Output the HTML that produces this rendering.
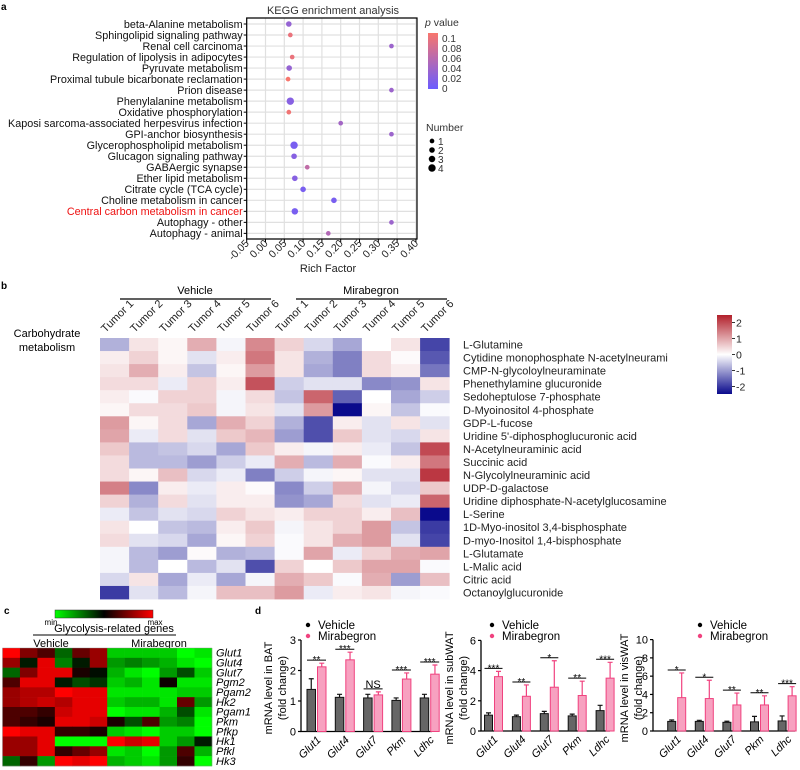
<!DOCTYPE html>
<html><head><meta charset="utf-8"><style>
body{margin:0;background:#fff;}
svg{display:block;font-family:"Liberation Sans",Arial,sans-serif;}
</style></head><body>
<svg id="fig" width="800" height="770" viewBox="0 0 800 770" xmlns="http://www.w3.org/2000/svg">
<defs>
<linearGradient id="pgrad" x1="0" y1="1" x2="0" y2="0"><stop offset="0" stop-color="#6b5cff"/><stop offset="1" stop-color="#f8766d"/></linearGradient>
<linearGradient id="bgrad" x1="0" y1="1" x2="0" y2="0"><stop offset="0" stop-color="#0a0a8c"/><stop offset="0.5" stop-color="#ffffff"/><stop offset="1" stop-color="#b2202b"/></linearGradient>
<linearGradient id="cgrad" x1="0" y1="0" x2="1" y2="0"><stop offset="0" stop-color="#00ff00"/><stop offset="0.5" stop-color="#000000"/><stop offset="1" stop-color="#ff0000"/></linearGradient>
</defs>
<text x="1" y="10" font-size="10" font-weight="bold">a</text>
<text x="1" y="289" font-size="10" font-weight="bold">b</text>
<text x="4" y="614" font-size="10" font-weight="bold">c</text>
<text x="255" y="614" font-size="10" font-weight="bold">d</text>
<text x="333" y="14" font-size="11" text-anchor="middle" fill="#333">KEGG enrichment analysis</text>
<text x="328" y="272" font-size="11" text-anchor="middle" fill="#222">Rich Factor</text>
<text x="425" y="26" font-size="10.5" fill="#333"><tspan font-style="italic">p</tspan> value</text>
<rect x="428" y="33" width="10" height="56" fill="url(#pgrad)"/>
<text x="426" y="131" font-size="10.5" fill="#333">Number</text>
<text x="47" y="337" font-size="11" text-anchor="middle">Carbohydrate</text>
<text x="47" y="351" font-size="11" text-anchor="middle">metabolism</text>
<rect x="717" y="315" width="15" height="79" fill="url(#bgrad)"/>
<rect x="55" y="610" width="98" height="8" fill="url(#cgrad)" stroke="#333" stroke-width="0.5"/>
<text x="51" y="625" font-size="8" text-anchor="middle">min</text>
<text x="155" y="625" font-size="8" text-anchor="middle">max</text>
<text x="114" y="632" font-size="11" text-anchor="middle">Glycolysis-related genes</text>
<line x1="33" y1="635" x2="176" y2="635" stroke="#000" stroke-width="1"/>
<text x="51" y="647" font-size="11" text-anchor="middle">Vehicle</text>
<text x="159" y="647" font-size="11" text-anchor="middle">Mirabegron</text>
<g id="root"></g>
</svg>
<script>
// ---------- Panel a data ----------
const keggTerms = ["beta-Alanine metabolism","Sphingolipid signaling pathway","Renal cell carcinoma","Regulation of lipolysis in adipocytes","Pyruvate metabolism","Proximal tubule bicarbonate reclamation","Prion disease","Phenylalanine metabolism","Oxidative phosphorylation","Kaposi sarcoma-associated herpesvirus infection","GPI-anchor biosynthesis","Glycerophospholipid metabolism","Glucagon signaling pathway","GABAergic synapse","Ether lipid metabolism","Citrate cycle (TCA cycle)","Choline metabolism in cancer","Central carbon metabolism in cancer","Autophagy - other","Autophagy - animal"];
const richFactor = [0.062,0.066,0.335,0.071,0.063,0.06,0.335,0.066,0.062,0.2,0.335,0.076,0.076,0.111,0.078,0.1,0.182,0.078,0.335,0.167];
const pValues = [0.03,0.09,0.035,0.09,0.03,0.1,0.035,0.02,0.095,0.04,0.035,0.01,0.02,0.06,0.02,0.01,0.01,0.01,0.035,0.05];
const geneCounts = [2,1,1,1,2,1,1,4,1,1,1,4,2,1,2,2,2,3,1,1];
const richTicks = [-0.05,0,0.05,0.1,0.15,0.2,0.25,0.3,0.35,0.4];
const richTickLabels = ["-0.05","0.00","0.05","0.10","0.15","0.20","0.25","0.30","0.35","0.40"];
const pTicks = [0.1,0.08,0.06,0.04,0.02,0];
const pTickLabels = ["0.1","0.08","0.06","0.04","0.02","0"];
const countLevels = [1,2,3,4];

// ---------- Panel b data ----------
const tumorLabels = ["Tumor 1","Tumor 2","Tumor 3","Tumor 4","Tumor 5","Tumor 6","Tumor 1","Tumor 2","Tumor 3","Tumor 4","Tumor 5","Tumor 6"];
const metabolites = ["L-Glutamine","Cytidine monophosphate N-acetylneurami","CMP-N-glycoloylneuraminate","Phenethylamine glucuronide","Sedoheptulose 7-phosphate","D-Myoinositol 4-phosphate","GDP-L-fucose","Uridine 5'-diphosphoglucuronic acid","N-Acetylneuraminic acid","Succinic acid","N-Glycolylneuraminic acid","UDP-D-galactose","Uridine diphosphate-N-acetylglucosamine","L-Serine","1D-Myo-inositol 3,4-bisphosphate","D-myo-Inositol 1,4-bisphosphate","L-Glutamate","L-Malic acid","Citric acid","Octanoylglucuronide"];
const zScores = [
[-0.8,0.3,0.1,0.9,-0.1,1.3,0.5,-0.4,-0.9,0,0.3,-1.9],
[0.2,0.5,0.1,-0.3,0.2,1.5,0.3,-0.8,-1.3,0.4,0.05,-1.7],
[0.3,0.9,0.2,-0.6,0.1,1.1,0.3,-0.9,-1.3,0.4,0.2,-1.4],
[0.4,0.4,-0.2,0.5,0.2,1.9,-0.5,-0.3,-0.3,-1.2,-1.1,0.3],
[0.2,-0.05,0.5,0.5,-0.1,0.4,-0.6,1.7,-1.6,0,-0.9,-0.5],
[0.1,0.4,0.4,0.6,-0.1,0.3,-0.3,1.1,-2.5,0.1,-0.6,-0.05],
[1.1,0.1,0.4,-0.9,0.9,0.5,-0.8,-1.8,0.2,-0.3,0.3,-0.3],
[1.0,-0.2,0.4,-0.3,0.6,0.8,-1.0,-1.8,0.6,-0.3,-0.4,0.3],
[0.6,-0.7,-0.6,-0.4,-0.9,0.6,0.2,-0.1,0.2,-0.2,-0.6,2.0],
[0.4,-0.7,-0.7,-1.0,-0.5,-0.2,0.9,-0.7,0.9,-0.05,0.2,1.5],
[0.4,0.1,0.7,-0.4,-0.2,-1.3,-0.5,-0.1,0.1,-0.3,-0.3,2.2],
[1.4,-1.2,0.2,-0.2,0.2,0.05,-1.2,-0.5,0.9,-0.1,-0.4,0.6],
[0.5,-0.8,0.4,-0.3,0.2,0.2,-1.1,-0.9,0.4,-0.3,-0.2,1.7],
[-0.2,-0.6,-0.3,-0.4,0.5,0.3,0.2,0.5,0.5,0.2,0.7,-2.6],
[0.3,0,-0.6,-0.7,0.2,0.6,-0.1,0.3,0.5,1.1,-0.6,-2.0],
[0.4,-0.3,-0.4,-0.9,0.1,0.5,-0.05,0.3,0.9,1.1,-0.3,-1.9],
[-0.1,-0.7,-1.0,0.05,-0.8,-0.7,-0.05,1.0,-0.2,0.5,0.9,1.0],
[-0.1,-0.7,0,-0.7,-0.3,-1.8,0.5,0,0.6,1.0,1.0,-0.05],
[-0.4,0.3,-0.9,-0.2,-0.9,-0.1,0.9,0.6,-0.05,0.9,-1.0,0.7],
[-2.0,-0.3,-0.7,-0.1,0.7,0.7,1.1,-0.2,0.2,0.3,-0.1,-0.05]];
const zTicks = [2,1,0,-1,-2];
const zTickLabels = ["2","1","0","-1","-2"];

// ---------- Panel c data ----------
const glyGenes = ["Glut1","Glut4","Glut7","Pgm2","Pgam2","Hk2","Pgam1","Pkm","Pfkp","Hk1","Pfkl","Hk3"];
const glyValues = [
[1,0.5,0.3,-0.4,0.4,0.6,-0.8,-0.8,-0.8,-0.8,-1,-0.9],
[0.6,-0.1,0.9,-0.5,-0.1,0.6,-0.6,-0.5,-0.6,-0.7,-0.9,-1],
[-0.4,0.5,0.9,0.9,0.1,-0.05,-0.7,-0.9,-1,-0.6,-0.3,-0.8],
[0.3,0.9,0.9,-0.1,-0.3,-0.2,-0.8,-0.7,-0.9,0.05,-0.9,-0.9],
[0.6,0.7,0.7,1,0.9,0.9,-0.9,-0.9,-0.9,-0.9,-0.8,-0.8],
[0.6,0.7,0.8,0.7,0.9,0.9,-0.8,-0.7,-0.7,-0.9,0.4,-0.6],
[0.3,0.3,0.2,0.8,0.9,0.9,-1,-0.9,-0.9,-0.7,-0.3,-0.9],
[0.3,0.2,0.1,0.9,0.9,0.8,0.1,-0.3,0.3,-0.6,-0.5,-1],
[1,0.9,0.9,0.2,0.2,0.1,-0.8,-0.9,-1,-0.8,-0.8,-1],
[0.6,0.6,0.9,-1,-1,-1,1,0.8,0.9,-0.8,-0.6,-0.1],
[0.6,0.6,0.9,0.2,0.4,0.6,-0.9,-0.8,-1,-0.6,0.3,-0.7],
[-0.4,0.2,-0.6,1,0.9,1,-0.7,-0.8,-0.9,-0.6,0.2,-1]];

// ---------- Panel d data ----------
const qpcrGenes = ["Glut1","Glut4","Glut7","Pkm","Ldhc"];
const batVehicle = [1.38,1.12,1.1,1.02,1.1];
const batVehicleSd = [0.35,0.1,0.12,0.08,0.12];
const batMira = [2.12,2.35,1.2,1.72,1.88];
const batMiraSd = [0.12,0.25,0.1,0.2,0.3];
const batSig = ["**","***","NS","***","***"];
const batTicks = [0,1,2,3];
const subVehicle = [1.05,0.95,1.15,1.0,1.35];
const subVehicleSd = [0.15,0.1,0.15,0.12,0.35];
const subMira = [3.6,2.3,2.9,2.35,3.5];
const subMiraSd = [0.35,0.75,1.75,0.95,1.05];
const subSig = ["***","**","*","**","***"];
const subTicks = [0,2,4,6];
const visVehicle = [1.05,1.05,0.95,1.0,1.1];
const visVehicleSd = [0.15,0.12,0.12,0.6,0.55];
const visMira = [3.65,3.55,2.85,2.85,3.85];
const visMiraSd = [2.7,2.0,1.3,1.0,1.0];
const visSig = ["*","*","**","**","***"];
const visTicks = [0,2,4,6,8,10];

const NS="http://www.w3.org/2000/svg";
const root=document.getElementById('root');
function mk(tag,attrs,txt){const e=document.createElementNS(NS,tag);for(const k in attrs)e.setAttribute(k,attrs[k]);if(txt!==undefined)e.textContent=txt;root.appendChild(e);return e;}
function lerp(a,b,t){return a.map((v,i)=>Math.round(v+(b[i]-v)*t));}
function rgb(c){return "rgb("+c.join(",")+")";}

// ===== Panel a =====
const ax0=246.7, axPer=376, axTop=18, axBot=239, axRight=417;
const xA=v=>ax0+(v+0.05)*axPer;
const yA=i=>24+i*11.02;
const pCol=p=>rgb(lerp([107,92,255],[248,118,109],Math.min(1,p/0.1)));
const rA=n=>1.9+n*0.45;
richTicks.forEach((t,i)=>{
  const g=mk('line',{x1:xA(t),x2:xA(t),y1:axTop,y2:axBot,stroke:'#e0e0e0','stroke-width':1.2});
  
  
  const tk=mk('line',{x1:xA(t),x2:xA(t),y1:axBot,y2:axBot+3,stroke:'#000'});
  
  
  const lb=mk('text',{x:xA(t)+3,y:axBot+5,'font-size':10.5,'text-anchor':'end',transform:`rotate(-45 ${xA(t)+3} ${axBot+5})`,fill:'#222'},richTickLabels[i]);
  
  
});
keggTerms.forEach((term,i)=>{
  const g=mk('line',{x1:ax0,x2:axRight,y1:yA(i),y2:yA(i),stroke:'#e0e0e0','stroke-width':1.2});
  
  
  const tk=mk('line',{x1:ax0-3,x2:ax0,y1:yA(i),y2:yA(i),stroke:'#000'});
  
  
  const lb=mk('text',{x:ax0-4,y:yA(i)+3.8,'font-size':10.8,'text-anchor':'end',fill:term.indexOf('Central')===0?'#ee1111':'#111'},term);
  
  
});
const axL=mk('path',{d:`M${ax0} ${axTop} V${axBot} H${axRight} V${axTop} Z`,fill:'none',stroke:'#000','stroke-width':1.2});


richFactor.forEach((v,i)=>{
  const c=mk('circle',{cx:xA(v),cy:yA(i),r:rA(geneCounts[i]),fill:pCol(pValues[i])});
  
  
});
pTicks.forEach((p,i)=>{
  const y=88-(p/0.1)*50;
  const tk=mk('line',{x1:438,x2:441,y1:y,y2:y,stroke:'#fff'});
  
  
  const lb=mk('text',{x:442,y:y+4,'font-size':10,fill:'#333'},pTickLabels[i]);
  
  
});
countLevels.forEach((n,i)=>{
  const y=141+i*9;
  const c=mk('circle',{cx:432,cy:y,r:rA(n),fill:'#000'});
  
  
  const lb=mk('text',{x:438,y:y+4,'font-size':10,fill:'#333'},String(n));
  
  
});

// ===== Panel b =====
const bx0=100, bcw=29.1, by0=338, brh=13.05;
const zCol=v=>{const t=Math.min(1,Math.abs(v)/2.5);return v>=0?rgb(lerp([255,255,255],[178,28,40],t)):rgb(lerp([255,255,255],[10,10,140],t));};
zScores.forEach((row,r)=>{
  row.forEach((v,c)=>{
    const cell=mk('rect',{x:bx0+c*bcw,y:by0+r*brh,width:bcw+0.4,height:brh+0.4,fill:zCol(v)});
    
    
  });
  const lb=mk('text',{x:463,y:by0+r*brh+brh/2+4,'font-size':11,fill:'#222'},metabolites[r]);
  
  
});
tumorLabels.forEach((t,c)=>{
  const x=bx0+c*bcw+bcw/2-9, y=333;
  const lb=mk('text',{x:x,y:y,'font-size':11,'text-anchor':'start',transform:`rotate(-45 ${x} ${y})`,fill:'#222'},t);
  
  
});
const gl1=mk('line',{x1:120,x2:271,y1:299,y2:299,stroke:'#000','stroke-width':1.2});


const gt1=mk('text',{x:195,y:294,'font-size':11,'text-anchor':'middle'},'Vehicle');


const gl2=mk('line',{x1:296,x2:447,y1:299,y2:299,stroke:'#000','stroke-width':1.2});


const gt2=mk('text',{x:371,y:294,'font-size':11,'text-anchor':'middle'},'Mirabegron');


zTicks.forEach((z,i)=>{
  const y=354.5-z*16;
  const tk=mk('line',{x1:732,x2:735,y1:y,y2:y,stroke:'#333'});
  
  
  const lb=mk('text',{x:736,y:y+4,'font-size':10.5,fill:'#222'},zTickLabels[i]);
  
  
});

// ===== Panel c =====
const cx0=2.5, ccw=17.45, cy0=648, crh=9.83;
const gCol=v=>v>=0?rgb(lerp([0,0,0],[255,0,0],Math.min(1,v))):rgb(lerp([0,0,0],[0,255,0],Math.min(1,-v)));
glyValues.forEach((row,r)=>{
  row.forEach((v,c)=>{
    const cell=mk('rect',{x:cx0+c*ccw,y:cy0+r*crh,width:ccw+0.3,height:crh+0.3,fill:gCol(v)});
    
    
  });
  const lb=mk('text',{x:216,y:cy0+r*crh+crh/2+3.8,'font-size':11,'font-style':'italic'},glyGenes[r]);
  
  
});
const cgrid=mk('rect',{x:cx0,y:cy0,width:12*ccw,height:12*crh,fill:'none',stroke:'#888','stroke-width':0.4});



// ===== Panel d =====
function barChart(cfg){
  const yS=v=>cfg.y0-v*cfg.ppu;
  const ax=mk('path',{d:`M${cfg.axisX} ${yS(cfg.ticks[cfg.ticks.length-1])} V${cfg.y0} H${cfg.xEnd}`,fill:'none',stroke:'#000','stroke-width':1.3});
  
  
  cfg.ticks.forEach(t=>{
    const tk=mk('line',{x1:cfg.axisX-3,x2:cfg.axisX,y1:yS(t),y2:yS(t),stroke:'#000','stroke-width':1.2});
    
    
    const lb=mk('text',{x:cfg.axisX-5,y:yS(t)+4,'font-size':11,'text-anchor':'end'},String(t));
    
    
  });
  qpcrGenes.forEach((g,i)=>{
    const xv=cfg.first+i*cfg.sp, xm=xv+cfg.bw+2;
    const pairs=[[xv,cfg.veh[i],cfg.vehSd[i],'#666','#111','vehicle'],[xm,cfg.mir[i],cfg.mirSd[i],'#f7a1c0','#f0427f','mirabegron']];
    pairs.forEach(p=>{
      const b=mk('rect',{x:p[0],y:yS(p[1]),width:cfg.bw,height:p[1]*cfg.ppu,fill:p[3],stroke:p[4],'stroke-width':1});
      
      
      const cxm=p[0]+cfg.bw/2;
      const e=mk('path',{d:`M${cxm} ${yS(p[1])} V${yS(p[1]+p[2])} M${cxm-2.5} ${yS(p[1]+p[2])} H${cxm+2.5}`,stroke:p[4],'stroke-width':1.2,fill:'none'});
      
      
    });
    const sy=yS(cfg.mir[i]+cfg.mirSd[i])-3;
    const sl=mk('line',{x1:xv,x2:xm+cfg.bw,y1:sy,y2:sy,stroke:'#000','stroke-width':1});
    
    
    const st=mk('text',{x:(xv+xm+cfg.bw)/2,y:cfg.sig[i]==='NS'?sy-1:sy+3,'font-size':cfg.sig[i]==='NS'?11:10,'text-anchor':'middle'},cfg.sig[i]);
    
    
    const lx=xv+cfg.bw+6, ly=cfg.y0+9;
    const lb=mk('text',{x:lx,y:ly,'font-size':11,'font-style':'italic','text-anchor':'end',transform:`rotate(-45 ${lx} ${ly})`},g);
    
    
  });
  const d1=mk('circle',{cx:cfg.legX,cy:625,r:2.2,fill:'#000'});
  
  
  const t1=mk('text',{x:cfg.legX+10,y:629,'font-size':11.5},'Vehicle');
  
  
  const d2=mk('circle',{cx:cfg.legX,cy:636,r:2.2,fill:'#f0427f'});
  
  
  const t2=mk('text',{x:cfg.legX+10,y:640,'font-size':11.5},'Mirabegron');
  
  
  const yt=mk('text',{x:cfg.titleX,y:688,'font-size':11,'text-anchor':'middle',transform:`rotate(-90 ${cfg.titleX} 688)`},cfg.title);
  
  
  const yt2=mk('text',{x:cfg.titleX+14,y:688,'font-size':11,'text-anchor':'middle',transform:`rotate(-90 ${cfg.titleX+14} 688)`},'(fold change)');
  
  
}
barChart({name:'bat',axisX:301,y0:731.5,ppu:30.5,first:307,sp:28.3,bw:8.5,xEnd:432,ticks:batTicks,veh:batVehicle,vehSd:batVehicleSd,mir:batMira,mirSd:batMiraSd,sig:batSig,legX:308,titleX:272,title:'mRNA level in BAT'});
barChart({name:'subwat',axisX:481,y0:731,ppu:15.1,first:484.5,sp:27.9,bw:8,xEnd:610,ticks:subTicks,veh:subVehicle,vehSd:subVehicleSd,mir:subMira,mirSd:subMiraSd,sig:subSig,legX:492,titleX:453,title:'mRNA level in subWAT'});
barChart({name:'viswat',axisX:653,y0:731,ppu:9.14,first:667.7,sp:27.6,bw:8,xEnd:795,ticks:visTicks,veh:visVehicle,vehSd:visVehicleSd,mir:visMira,mirSd:visMiraSd,sig:visSig,legX:700,titleX:628,title:'mRNA level in visWAT'});
</script>
</body></html>
